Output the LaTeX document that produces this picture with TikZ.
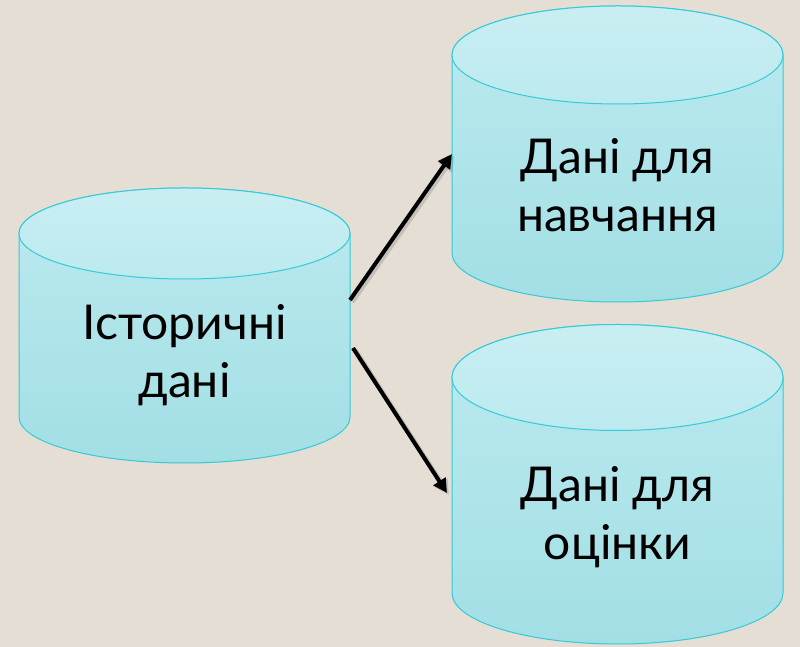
\documentclass[tikz,border=0pt]{standalone}
\usepackage{fontspec}
\setmainfont{Lato}
\usetikzlibrary{arrows.meta}
\definecolor{bgc}{RGB}{228,222,212}
\definecolor{filltop}{RGB}{188,234,239}
\definecolor{fillbot}{RGB}{162,223,229}
\definecolor{edgec}{RGB}{52,202,216}
\tikzset{
  body/.style={draw=none, minimum width=331pt, inner sep=0pt, outer sep=0pt},
  label/.style={align=center, font=\fontsize{48}{58}\selectfont, text=black},
  arr/.style={line width=4pt, black, -{Triangle[length=14pt,width=14pt]}},
  arrshadow/.style={line width=5pt, black!60, opacity=0.25, -{Triangle[length=15pt,width=15pt]}}
}
\newcommand\drawcyl[6]{% cx, ytop, ybot, rx, ry top, ry bottom
  \path[top color=filltop, bottom color=fillbot, draw=edgec, line width=1pt]
    ({#1-#4},#2) -- ({#1-#4},#3) arc[start angle=180, end angle=360, x radius=#4, y radius=#6]
    -- ({#1+#4},#2) arc[start angle=0, end angle=180, x radius=#4, y radius=#5] -- cycle;
  \path[top color=filltop!80!white, bottom color=filltop, draw=edgec, line width=1pt]
    (#1,#2) ellipse[x radius=#4, y radius=#5];
}
\begin{document}
\begin{tikzpicture}[x=1pt,y=1pt]
\fill[bgc] (0,0) rectangle (800,647);
\useasboundingbox (0,0) rectangle (800,647);
% cylinders
\drawcyl{184.5}{413.5}{230}{165.5}{45.5}{46}
\drawcyl{617.5}{592}{394}{165.5}{49}{49}
\drawcyl{617.5}{269.5}{54}{165.5}{53}{51}
% body nodes
\node[body, minimum height=184pt] (hist) at (184.5,322) {};
\node[body, minimum height=198pt] (train) at (617.5,493) {};
\node[body, minimum height=216pt] (eval) at (617.5,162) {};
% texts
\node[label] (histtext) at (184.5,292) {Історичні\\дані};
\node[label] (traintext) at (617.5,462) {Дані для\\навчання};
\node[label] (evaltext) at (617.5,130) {Дані для\\оцінки};
% arrows
\draw[arrshadow] ([xshift=2pt,yshift=23pt]hist.east) -- ([xshift=2pt,yshift=-2pt]train.west);
\draw[arrshadow] ([xshift=5pt,yshift=-25pt]hist.east) -- ([xshift=-3pt,yshift=-10pt]eval.west);
\draw[arr] ([yshift=25pt]hist.east) -- (train.west);
\draw[arr] ([xshift=3pt,yshift=-23pt]hist.east) -- ([xshift=-5pt,yshift=-8pt]eval.west);
\end{tikzpicture}
\end{document}
